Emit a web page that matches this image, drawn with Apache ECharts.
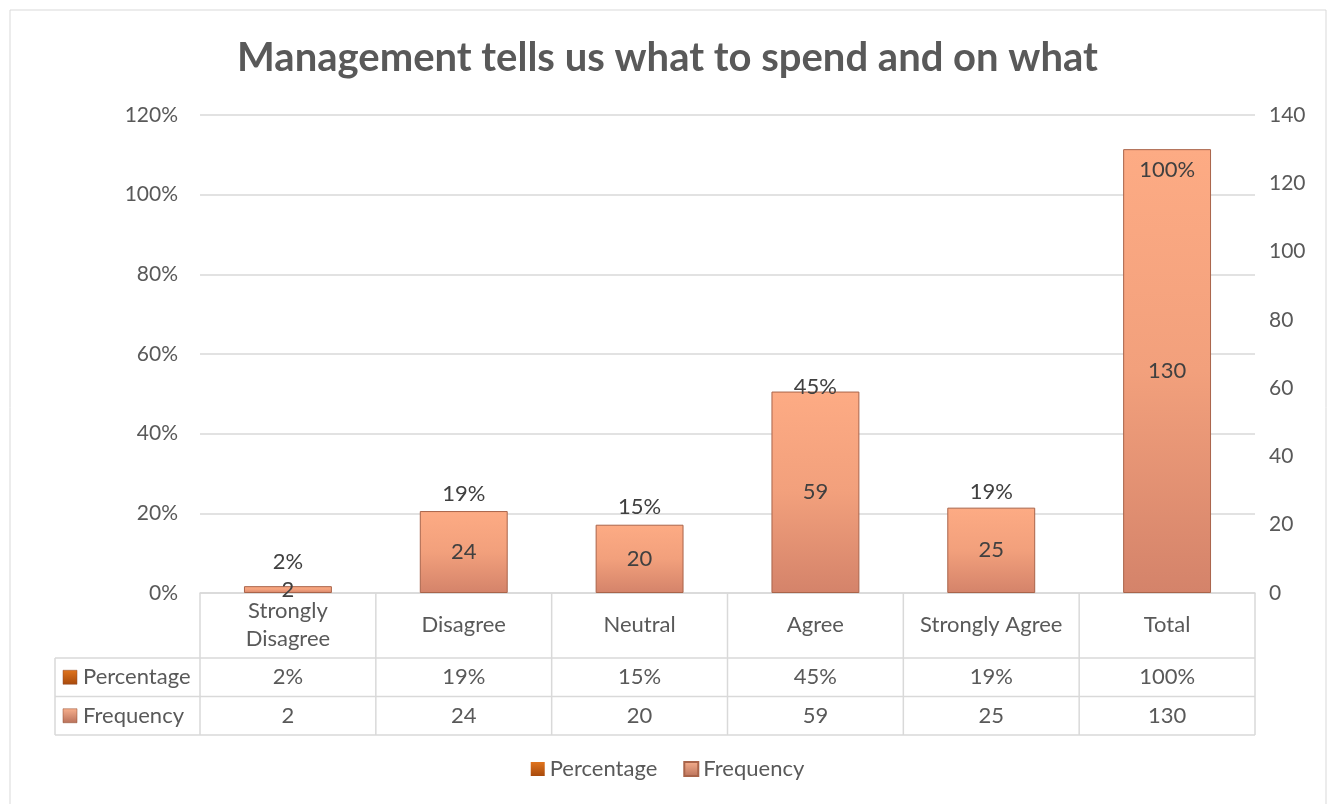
<!DOCTYPE html>
<html>
<head>
<meta charset="utf-8">
<script src="https://cdn.jsdelivr.net/npm/echarts@6/dist/echarts.min.js"></script>
<style>
  html, body { margin: 0; padding: 0; background: #fff; }
  #main { width: 1335px; height: 804px; }
</style>
</head>
<body>
<div id="main"></div>
<script>
// data
var categories = ['Strongly\nDisagree', 'Disagree', 'Neutral', 'Agree', 'Strongly Agree', 'Total'];
var percentage = [1.5, 18.5, 15.4, 45.4, 19.2, 100];
var frequency = [2, 24, 20, 59, 25, 130];
var seriesNames = ['Percentage', 'Frequency'];

var FONT = 'Lato, "Open Sans", sans-serif';
var TXT = '#595959';
var LINE = '#D9D9D9';
var FS = 22;

// layout
var W = 1335;
var gridL = 200, gridR = 80, gridT = 115, gridB = 211;
var axisY = 804 - gridB;          // 593
var rowH1 = 65, rowH = 38.5;
var tableLeft = 55;

function pct(v) { return Math.round(v) + '%'; }

var chart = echarts.init(document.getElementById('main'));

var barGrad = new echarts.graphic.LinearGradient(0, 0, 0, 1, [
    { offset: 0, color: '#FDAB84' },
    { offset: 0.5, color: '#F2A07C' },
    { offset: 1, color: '#D4836A' }
]);
var iconGrad = function (c1, c2) {
    return new echarts.graphic.LinearGradient(0, 0, 0, 1, [
        { offset: 0, color: c1 }, { offset: 1, color: c2 }
    ]);
};

// data table drawn with graphic elements
function buildTable() {
    var g = [];
    var plotW = W - gridL - gridR;
    var cellW = plotW / categories.length;
    var yHead = axisY + rowH1;
    var y1 = yHead + rowH;
    var y2 = y1 + rowH;
    var ls = { stroke: LINE, lineWidth: 1.5 };

    // chart border
    g.push({ type: 'rect', shape: { x: 10, y: 10, width: 1316, height: 810 },
        style: { fill: null, stroke: LINE, lineWidth: 1 }, silent: true });

    [yHead, y1, y2].forEach(function (y) {
        g.push({ type: 'line', shape: { x1: tableLeft, y1: y, x2: gridL + plotW, y2: y }, style: ls });
    });
    g.push({ type: 'line', shape: { x1: tableLeft, y1: yHead, x2: tableLeft, y2: y2 }, style: ls });
    for (var i = 0; i <= categories.length; i++) {
        var x = gridL + i * cellW;
        g.push({ type: 'line', shape: { x1: x, y1: axisY, x2: x, y2: y2 }, style: ls });
    }
    var rows = [
        { name: seriesNames[0], vals: percentage.map(pct), y: yHead + rowH / 2, c: iconGrad('#E0741E', '#A84A0C') },
        { name: seriesNames[1], vals: frequency.map(String), y: y1 + rowH / 2, c: iconGrad('#F7B08E', '#B9715A') }
    ];
    rows.forEach(function (r) {
        g.push({ type: 'rect', shape: { x: tableLeft + 8, y: r.y - 7, width: 14, height: 14 },
            style: { fill: r.c, stroke: '#8E4A2C', lineWidth: 0.5 } });
        g.push({ type: 'text', x: tableLeft + 28, y: r.y,
            style: { text: r.name, fill: TXT, font: FS + 'px ' + FONT, textVerticalAlign: 'middle' } });
        r.vals.forEach(function (v, i) {
            g.push({ type: 'text', x: gridL + (i + 0.5) * cellW, y: r.y,
                style: { text: v, fill: TXT, font: FS + 'px ' + FONT, textAlign: 'center', textVerticalAlign: 'middle' } });
        });
    });
    return g;
}

var option = {
    animation: false,
    textStyle: { fontFamily: FONT },
    title: {
        text: 'Management tells us what to spend and on what',
        left: 'center',
        top: 33,
        textStyle: { fontSize: 40, fontWeight: 'bold', color: TXT, fontFamily: FONT }
    },
    legend: {
        bottom: 19,
        left: 'center',
        itemWidth: 14,
        itemHeight: 14,
        itemGap: 26,
        textStyle: { fontSize: FS, color: TXT, fontFamily: FONT },
        data: [
            { name: seriesNames[0], icon: 'rect', itemStyle: { color: iconGrad('#E0741E', '#A84A0C') } },
            { name: seriesNames[1], icon: 'rect', itemStyle: { color: iconGrad('#F7B08E', '#B9715A') } }
        ]
    },
    grid: { left: gridL, right: gridR, top: gridT, bottom: gridB, containLabel: false },
    xAxis: {
        type: 'category',
        data: categories,
        axisLine: { show: true, lineStyle: { color: LINE, width: 1.5 } },
        axisTick: { show: false },
        axisLabel: {
            interval: 0, margin: 32, verticalAlign: 'middle',
            fontSize: FS, color: TXT, fontFamily: FONT, lineHeight: 28
        }
    },
    yAxis: [
        {
            type: 'value', min: 0, max: 120, interval: 20,
            axisLabel: { formatter: '{value}%', fontSize: 21, color: TXT, margin: 22, fontFamily: FONT },
            splitLine: { lineStyle: { color: LINE, width: 1.5 } },
            axisLine: { show: false }, axisTick: { show: false }
        },
        {
            type: 'value', min: 0, max: 140, interval: 20,
            axisLabel: { fontSize: 21, color: TXT, margin: 14, fontFamily: FONT },
            splitLine: { show: false },
            axisLine: { show: false }, axisTick: { show: false }
        }
    ],
    series: [
        {
            name: seriesNames[1],
            type: 'bar',
            yAxisIndex: 1,
            data: frequency,
            barWidth: '50%',
            z: 2,
            itemStyle: { color: barGrad, borderColor: '#A9644A', borderWidth: 1 },
            label: { show: true, position: 'inside', fontSize: FS, color: '#404040', fontFamily: FONT }
        },
        {
            name: seriesNames[0],
            type: 'bar',
            yAxisIndex: 0,
            data: percentage,
            barWidth: '50%',
            barGap: '-100%',
            z: 3,
            itemStyle: { color: 'rgba(0,0,0,0)' },
            label: {
                show: true, position: 'top', distance: 14,
                fontSize: FS, color: '#404040', fontFamily: FONT,
                formatter: function (p) { return pct(p.value); }
            }
        }
    ],
    graphic: buildTable()
};

chart.setOption(option);
</script>
</body>
</html>
